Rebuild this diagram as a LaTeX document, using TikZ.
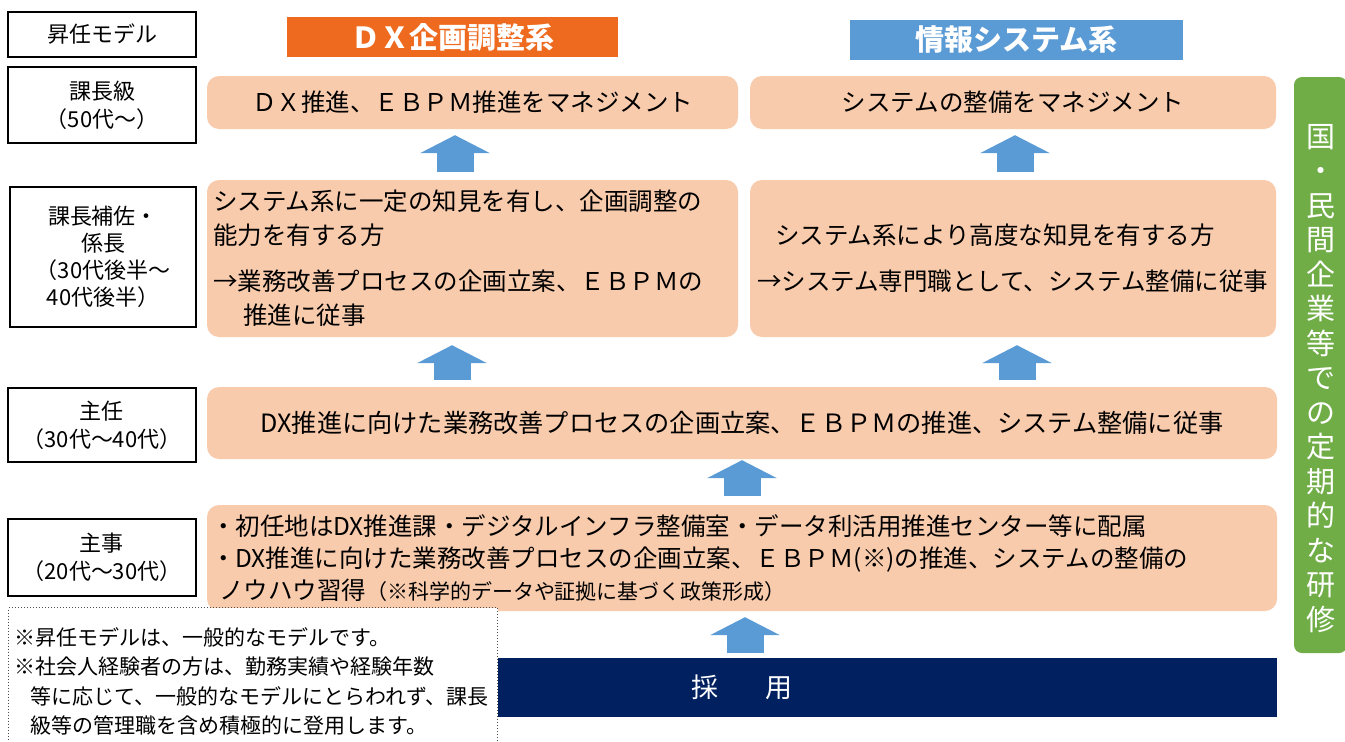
\documentclass[tikz,border=0pt]{standalone}
\usepackage{fontspec}
\setmainfont{Noto Sans CJK JP}
\usetikzlibrary{arrows.meta}
\definecolor{peach}{HTML}{F8CBAD}
\definecolor{dxorange}{HTML}{EE6A1E}
\definecolor{sysblue}{HTML}{5B9BD5}
\definecolor{arrowblue}{HTML}{5B9BD5}
\definecolor{hirenavy}{HTML}{002060}
\definecolor{traingreen}{HTML}{70AD47}

\begin{document}
\begin{tikzpicture}[x=1pt, y=-1pt,
rank/.style={draw, line width=1.3pt, fill=white, align=center, inner sep=0pt, minimum width=188pt, font=\fontsize{22}{28}\selectfont},
task/.style={fill=peach, rounded corners=12pt, inner sep=0pt, font=\fontsize{24.5}{34}\selectfont},
head/.style={text=white, inner sep=0pt, minimum height=40pt, font=\fontsize{29}{34}\selectfont\bfseries},
uparrow/.style={draw=arrowblue, line width=37pt, -{Triangle[width=70pt, length=18pt, line width=0pt]}}]

\useasboundingbox (0,0) rectangle (1345,742);
\clip (0,0) rectangle (1345,742);

% left column
\node (model) [rank, minimum height=45pt] at (102,34.5) {昇任モデル};
\node (kacho) [rank, minimum height=76pt] at (102,105) {課長級\\（50代〜）};
\node (hosa) [rank, minimum width=186pt, minimum height=140pt, font=\fontsize{22}{27}\selectfont] at (103,257) {課長補佐・\\係長\\（30代後半〜\\40代後半）};
\node (shunin) [rank, minimum height=74pt] at (102,425) {主任\\（30代〜40代）};
\node (shuji) [rank, minimum height=77pt] at (102,557.5) {主事\\（20代〜30代）};

% headers
\node (dxplan) [head, fill=dxorange, minimum width=331pt] at (452.5,37) {ＤＸ企画調整系};
\node (infosys) [head, fill=sysblue, minimum width=333pt] at (1016.5,40) {情報システム系};

% rows
\node (mgrdx) [task, minimum width=531pt, minimum height=53pt] at (472.5,102.5) {ＤＸ推進、ＥＢＰＭ推進をマネジメント};
\node (mgrsys) [task, minimum width=526pt, minimum height=53pt] at (1013,102.5) {システムの整備をマネジメント};
\node (subdx) [task, text width=519pt, inner xsep=6pt, align=left, minimum height=157pt] at (472.5,258.5) {システム系に一定の知見を有し、企画調整の\\能力を有する方\\[12pt]→業務改善プロセスの企画立案、ＥＢＰＭの\\\hspace*{30pt}推進に従事};
\node (subsys) [task, text width=512pt, inner xsep=7pt, align=left, minimum height=157pt] at (1013,258.5) {\hspace*{18pt}システム系により高度な知見を有する方\\[12pt]→システム専門職として、システム整備に従事};
\node (chief) [task, minimum width=1070pt, minimum height=72pt, font=\fontsize{25.2}{34}\selectfont] at (742,423) {DX推進に向けた業務改善プロセスの企画立案、ＥＢＰＭの推進、システム整備に従事};
\node (staff) [task, text width=1062pt, inner xsep=4pt, align=left, minimum height=106pt, font=\fontsize{24.5}{32}\selectfont] at (742,558) {・初任地はDX推進課・デジタルインフラ整備室・データ利活用推進センター等に配属\\・DX推進に向けた業務改善プロセスの企画立案、ＥＢＰＭ(※)の推進、システムの整備の\\\hspace*{8pt}ノウハウ習得{\fontsize{21}{32}\selectfont（※科学的データや証拠に基づく政策形成）}};
\node (hire) [fill=hirenavy, text=white, minimum width=1070pt, minimum height=59pt, inner sep=0pt, font=\fontsize{27}{32}\selectfont] at (742,687.5) {採\hspace{48pt}用};

% training bar
\node (train) [fill=traingreen, rounded corners=8pt, minimum width=53pt, minimum height=576pt, inner sep=0pt] at (1320.5,365) {};
\node (traintext) [text=white, align=center, inner sep=0pt, font=\fontsize{29}{34.5}\selectfont] at ([yshift=-13.5pt]train.center) {国\\・\\民\\間\\企\\業\\等\\で\\の\\定\\期\\的\\な\\研\\修};

% promotion arrows
\draw[uparrow, shorten <=8pt, shorten >=6pt] ([xshift=-17.5pt]subdx.north) -- ([xshift=-17.5pt]mgrdx.south);
\draw[uparrow, shorten <=8pt, shorten >=6pt] ([xshift=2pt]subsys.north) -- ([xshift=2pt]mgrsys.south);
\draw[uparrow, shorten <=7pt, shorten >=8pt] ([xshift=-20.5pt]subdx.south |- chief.north) -- ([xshift=-20.5pt]subdx.south);
\draw[uparrow, shorten <=7pt, shorten >=8pt] ([xshift=4pt]subsys.south |- chief.north) -- ([xshift=4pt]subsys.south);
\draw[uparrow, shorten <=9pt, shorten >=1pt] (staff.north) -- (chief.south);
\draw[uparrow, shorten <=5pt, shorten >=6pt] ([xshift=3pt]hire.north) -- ([xshift=3pt]staff.south);

% note
\node (note) [draw=black!70, dotted, line width=1pt, fill=white, anchor=north west, text width=477pt, inner xsep=6pt, inner ysep=0pt, minimum height=148pt, align=left, font=\fontsize{21}{29.3}\selectfont] at (8,607) {※昇任モデルは、一般的なモデルです。\\※社会人経験者の方は、勤務実績や経験年数\\\hspace*{16pt}等に応じて、一般的なモデルにとらわれず、課長\\\hspace*{16pt}級等の管理職を含め積極的に登用します。};

\end{tikzpicture}
\end{document}
